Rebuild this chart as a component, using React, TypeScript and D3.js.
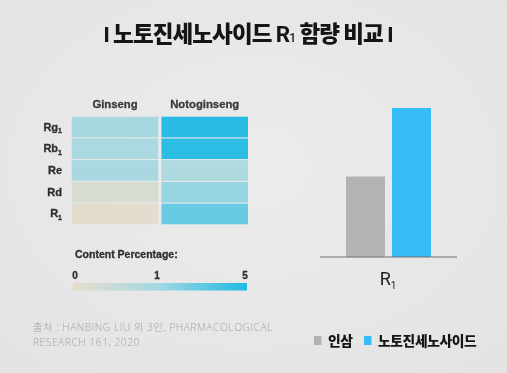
import * as React from 'react';
import * as d3 from 'd3';

// heatmap data (content percentage)
const compounds = ['Rg', 'Rb', 'Re', 'Rd', 'R'];
const compoundSubs = ['1', '1', '', '', '1'];
const species = ['Ginseng', 'Notoginseng'];
const ginsengValues = [0.95, 0.9, 0.92, 0.25, 0.08];
const notoginsengValues = [4.7, 4.6, 0.85, 1.4, 2.8];
const scaleTicks = [0, 1, 5];

// bar chart data
const barSeries = ['인삼', '노토진세노사이드'];
const barValues = [2.7, 5.0];
const barColors = ['#b3b3b3', '#36bdf8'];

const W = 507;
const H = 373;
const KR = '"Noto Sans CJK KR", "Noto Sans", sans-serif';
const LAT = '"Liberation Sans", Arial, sans-serif';

const App: React.FC = () => {
  const color = d3.scaleLinear<string>()
    .domain([0, 1, 5])
    .range(['#e8ddcb', '#a4d8e3', '#20b9e4'])
    .interpolate(d3.interpolateRgb);

  const col = d3.scaleBand<string>().domain(species).range([71.7, 248]).paddingInner(0.035);
  const row = d3.scaleBand<string>().domain(compounds).range([116.7, 224.3]).paddingInner(0.05);
  const matrix = [ginsengValues, notoginsengValues];

  const cb = d3.scaleLinear().domain([0, 1, 5]).range([75, 157, 245]);
  const gradStops = d3.range(0, 5.01, 0.25).map(v => ({ off: (cb(v) - 75) / (245 - 75), c: color(v) }));

  const bx = d3.scaleBand<string>().domain(barSeries).range([346, 431]).paddingInner(0.152);
  const by = d3.scaleLinear().domain([0, 5]).range([257, 108]);

  return (
    <svg width={W} height={H} style={{ position: 'fixed', left: 0, top: 0 }}>
      <defs>
        <radialGradient id="bg" cx="50%" cy="45%" r="75%">
          <stop offset="0%" stopColor="#ececec" />
          <stop offset="100%" stopColor="#e3e3e3" />
        </radialGradient>
        <linearGradient id="cbar" x1="0" x2="1" y1="0" y2="0">
          {gradStops.map((s, i) => <stop key={i} offset={s.off} stopColor={s.c} />)}
        </linearGradient>
      </defs>
      <rect width={W} height={H} fill="url(#bg)" />

      {/* title */}
      <text x={248} y={42} textAnchor="middle" fontFamily={KR} fontWeight={900} fontSize={22.5}
        letterSpacing={-0.9} fill="#151515">
        <tspan fontFamily={LAT} fontWeight={700}>I</tspan>
        <tspan> 노토진세노사이드 </tspan>
        <tspan fontFamily="Roboto, sans-serif" fontWeight={700}>R</tspan>
        <tspan fontSize={12} fontFamily="Roboto, sans-serif" fontWeight={500}>1</tspan>
        <tspan> 함량 비교 </tspan>
        <tspan fontFamily={LAT} fontWeight={700}>I</tspan>
      </text>

      {/* heatmap */}
      {species.map(s => (
        <text key={s} x={(col(s) ?? 0) + col.bandwidth() / 2} y={108} textAnchor="middle"
          fontFamily={LAT} fontWeight={700} fontSize={11.3} fill="#3a3a3a"
          stroke="#3a3a3a" strokeWidth={0.3}>{s}</text>
      ))}
      {compounds.map((c, i) => (
        <text key={c} x={62} y={(row(c) ?? 0) + row.bandwidth() / 2 + 3.5} textAnchor="end"
          fontFamily={LAT} fontWeight={700} fontSize={11} fill="#2e2e2e"
          stroke="#2e2e2e" strokeWidth={0.3}>
          {c}
          {compoundSubs[i] && <tspan fontSize={7} dy={2.5}>{compoundSubs[i]}</tspan>}
        </text>
      ))}
      {species.map((s, j) => compounds.map((c, i) => (
        <rect key={s + c} x={col(s)} y={row(c)} width={col.bandwidth()} height={row.bandwidth()}
          fill={color(matrix[j][i])} />
      )))}

      {/* color scale */}
      <text x={75} y={258} fontFamily={LAT} fontWeight={700} fontSize={10.5} fill="#2e2e2e"
        stroke="#2e2e2e" strokeWidth={0.3}>Content Percentage:</text>
      {scaleTicks.map(t => (
        <text key={t} x={cb(t)} y={279} textAnchor="middle" fontFamily={LAT} fontWeight={700}
          fontSize={10} fill="#2e2e2e" stroke="#2e2e2e" strokeWidth={0.3}>{t}</text>
      ))}
      <rect x={73} y={283} width={174} height={7.5} fill="url(#cbar)" />

      {/* bar chart */}
      {barSeries.map((s, i) => (
        <rect key={s} x={bx(s)} y={by(barValues[i])} width={bx.bandwidth()}
          height={by(0) - by(barValues[i])} fill={barColors[i]} />
      ))}
      <line x1={320} x2={457} y1={by(0)} y2={by(0)} stroke="#707070" strokeWidth={1.2} />
      <text x={388} y={285} textAnchor="middle" fontFamily="Roboto, sans-serif" fontSize={18} fill="#1e1e1e">
        R<tspan fontSize={10} dy={4}>1</tspan>
      </text>

      {/* source */}
      <text fontFamily={'"Open Sans", "Noto Sans CJK KR", sans-serif'} fontWeight={300} fontSize={10.4}
        letterSpacing={0.45} fill="#a3a3a3">
        <tspan x={33} y={331}>출처 : HANBING LIU 외 3인, PHARMACOLOGICAL</tspan>
        <tspan x={33} y={346}>RESEARCH 161, 2020</tspan>
      </text>

      {/* legend */}
      {barSeries.map((s, i) => {
        const lx = [314, 364][i];
        return (
          <g key={s}>
            <rect x={lx} y={336} width={7.5} height={9} fill={barColors[i]} />
            <text x={lx + 14} y={346} fontFamily={KR} fontWeight={900} fontSize={13.8}
              letterSpacing={-0.4} fill="#151515">{s}</text>
          </g>
        );
      })}
    </svg>
  );
};

export default App;
